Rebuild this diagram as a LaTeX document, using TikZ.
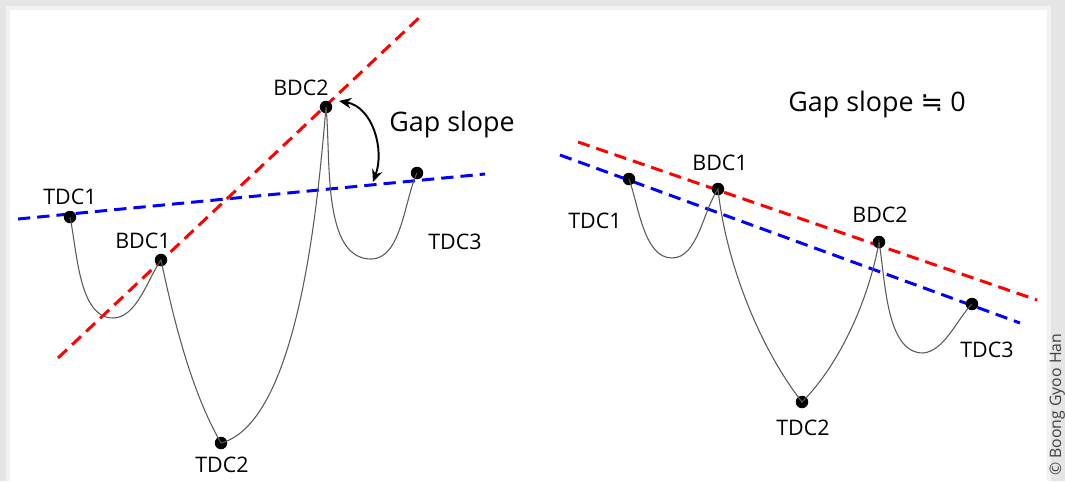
\documentclass[tikz,border=0pt]{standalone}
\usepackage{fontspec}
\setmainfont{Open Sans}
\newfontfamily\approxfont{DejaVu Sans}
\usetikzlibrary{arrows.meta}

\begin{document}
\begin{tikzpicture}[
  x=0.02cm, y=-0.02cm,
  dot/.style={circle, fill=black, inner sep=0pt, minimum size=0.25cm},
  lbl/.style={inner sep=0pt, font=\fontsize{12.2}{14}\selectfont},
  title/.style={inner sep=0pt, font=\fontsize{15.3}{18}\selectfont},
  wave/.style={draw=black!65, line width=0.6pt},
  redline/.style={draw=red, line width=1.7pt, dash pattern=on 7pt off 4pt},
  blueline/.style={draw=blue, line width=1.7pt, dash pattern=on 7pt off 4pt},
  gaparr/.style={{Stealth[length=7pt,width=6pt]}-{Stealth[length=7pt,width=6pt]}, line width=1.1pt}
]

% -------------------------
% FRAME
% -------------------------
\fill[black!10] (0,0) rectangle (1065,481);
\fill[black!5] (6,6) rectangle (1051,481);
\fill[white] (10,10) rectangle (1047,481);
\useasboundingbox (0,0) rectangle (1065,481);

\node[rotate=90, anchor=base west, inner sep=0pt, font=\fontsize{9}{11}\selectfont, text=black!75] (credit) at (1061,476) {© Boong Gyoo Han};

% -------------------------
% LEFT: LARGE GAP SLOPE
% -------------------------
\coordinate (redL1) at (58,358);
\coordinate (redL2) at (422,15);
\coordinate (blueL1) at (18,219);
\coordinate (blueL2) at (485,174);
\draw[blueline] (blueL1) -- (blueL2);
\draw[redline] (redL1) -- (redL2);

\node[dot] (tdcL1) at (70,217) {};
\node[dot] (bdcL1) at (161,260) {};
\node[dot] (tdcL2) at (221,443) {};
\node[dot] (bdcL2) at (326,107) {};
\node[dot] (tdcL3) at (417,173) {};
\coordinate (lowL1) at (113,318);
\coordinate (lowL2) at (371,259);

\draw[wave] (tdcL1.center) to[out=-78,in=180,looseness=0.8] (lowL1)
  to[out=0,in=-125,looseness=0.8] (bdcL1.center)
  to[out=-78,in=120,looseness=0.8] (tdcL2.center)
  to[out=15,in=-95,looseness=0.6] (bdcL2.center)
  to[out=-84,in=180,looseness=0.8] (lowL2)
  to[out=0,in=-115,looseness=0.8] (tdcL3.center);

\node[lbl] (labTdcL1) at (70,197) {TDC1};
\node[lbl] (labBdcL1) at (143,241) {BDC1};
\node[lbl] (labTdcL2) at (222,465) {TDC2};
\node[lbl] (labBdcL2) at (301,88) {BDC2};
\node[lbl] (labTdcL3) at (455,242) {TDC3};

% Gap slope arrow
\coordinate (gapTop) at (339,101);
\coordinate (gapBot) at (373,182);
\draw[gaparr] (gapTop) to[out=-10,in=70] (gapBot);
\node[title] (gapL) at (452,125) {Gap slope};

% -------------------------
% RIGHT: GAP SLOPE NEAR ZERO
% -------------------------
\coordinate (redR1) at (578,142);
\coordinate (redR2) at (1037,300);
\coordinate (blueR1) at (560,155);
\coordinate (blueR2) at (1020,323);
\draw[blueline] (blueR1) -- (blueR2);
\draw[redline] (redR1) -- (redR2);

\node[dot] (tdcR1) at (629,179) {};
\node[dot] (bdcR1) at (718,189) {};
\node[dot] (tdcR2) at (802,402) {};
\node[dot] (bdcR2) at (879,242) {};
\node[dot] (tdcR3) at (972,304) {};
\coordinate (lowR1) at (672,258);
\coordinate (lowR2) at (923,353);

\draw[wave] (tdcR1.center) to[out=-70,in=180,looseness=0.8] (lowR1)
  to[out=0,in=-125,looseness=0.8] (bdcR1.center)
  to[out=-84,in=128,looseness=0.8] (tdcR2.center)
  to[out=45,in=-100,looseness=0.8] (bdcR2.center)
  to[out=-80,in=180,looseness=0.8] (lowR2)
  to[out=5,in=-135,looseness=0.8] (tdcR3.center);

\node[lbl] (labTdcR1) at (595,221) {TDC1};
\node[lbl] (labBdcR1) at (720,163) {BDC1};
\node[lbl] (labTdcR2) at (803,428) {TDC2};
\node[lbl] (labBdcR2) at (880,215) {BDC2};
\node[lbl] (labTdcR3) at (987,350) {TDC3};

\node[title] (gapR) at (877,105) {Gap slope {\approxfont ≒} 0};

\end{tikzpicture}
\end{document}
